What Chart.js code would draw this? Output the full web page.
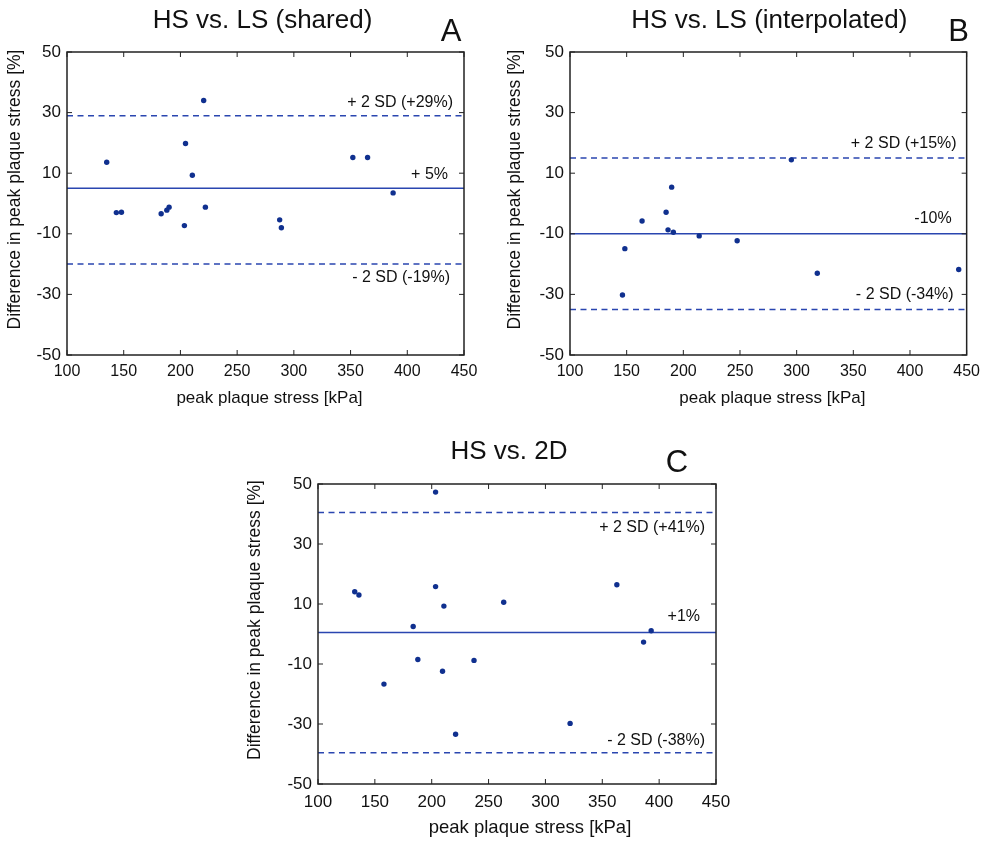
<!DOCTYPE html>
<html>
<head>
<meta charset="utf-8">
<script src="https://cdn.jsdelivr.net/npm/chart.js@4.4.1/dist/chart.umd.min.js"></script>
<style>
  body { margin: 0; background: #fff; }
  #wrap { position: relative; width: 987px; height: 844px; overflow: hidden; }
  canvas { position: absolute; }
</style>
</head>
<body>
<div id="wrap">
  <canvas id="chartA" width="490" height="420" style="left:0;top:0"></canvas>
  <canvas id="chartB" width="490" height="420" style="left:497px;top:0"></canvas>
  <canvas id="chartC" width="500" height="414" style="left:240px;top:430px"></canvas>
</div>
<script>
// panel A - HS vs. LS (shared)
const aStress = [135, 143.5, 148, 183, 188, 190, 203.5, 204.5, 210.5, 220.5, 222, 287.5, 289, 352, 365, 387.5];
const aDiff = [13.6, -3.0, -2.9, -3.4, -2.2, -1.2, -7.3, 19.8, 9.3, 34.0, -1.2, -5.4, -8.0, 15.2, 15.2, 3.5];
const aLines = [5, 29, -20];
const aLabels = ['+ 5%', '+ 2 SD (+29%)', '- 2 SD (-19%)'];

// panel B - HS vs. LS (interpolated)
const bStress = [146.3, 148.4, 163.6, 184.8, 186.5, 189.7, 191.2, 214, 247.5, 295.3, 318.2, 443];
const bDiff = [-30.2, -14.9, -5.8, -2.9, -8.7, 5.4, -9.5, -10.7, -12.3, 14.4, -23.0, -21.8];
const bLines = [-10, 15, -35];
const bLabels = ['-10%', '+ 2 SD (+15%)', '- 2 SD (-34%)'];

// panel C - HS vs. 2D
const cStress = [132.3, 136, 158, 183.7, 187.8, 203.4, 203.4, 209.5, 210.7, 221, 237.2, 263.3, 321.7, 362.8, 386.3, 393];
const cDiff = [14.1, 13.0, -16.7, 2.5, -8.5, 47.3, 15.8, -12.4, 9.3, -33.4, -8.8, 10.6, -29.8, 16.4, -2.7, 1.1];
const cLines = [0.5, 40.5, -39.6];
const cLabels = ['+1%', '+ 2 SD (+41%)', '- 2 SD (-38%)'];

const xTicks = [100, 150, 200, 250, 300, 350, 400, 450];
const yTicks = [-50, -30, -10, 10, 30, 50];
const xTitle = 'peak plaque stress [kPa]';
const yTitle = 'Difference in peak plaque stress [%]';

const dotColor = '#10308f';
const lineColor = '#2a46b0';
const font = '"Liberation Sans", Arial, sans-serif';

// box + inward MATLAB-style ticks, titles and line labels
const decorPlugin = {
  id: 'decor',
  afterDraw(chart) {
    const o = chart.options.plugins.decor;
    const { ctx, chartArea: ca, scales } = chart;
    const midX = (ca.left + ca.right) / 2;
    const midY = (ca.top + ca.bottom) / 2;
    ctx.save();
    ctx.strokeStyle = '#222';
    ctx.lineWidth = 1.5;
    ctx.strokeRect(ca.left, ca.top, ca.right - ca.left, ca.bottom - ca.top);
    ctx.lineWidth = 1;
    xTicks.forEach(v => {
      const px = scales.x.getPixelForValue(v);
      ctx.beginPath();
      ctx.moveTo(px, ca.bottom); ctx.lineTo(px, ca.bottom - 5);
      ctx.moveTo(px, ca.top); ctx.lineTo(px, ca.top + 5);
      ctx.stroke();
    });
    yTicks.forEach(v => {
      const py = scales.y.getPixelForValue(v);
      ctx.beginPath();
      ctx.moveTo(ca.left, py); ctx.lineTo(ca.left + 5, py);
      ctx.moveTo(ca.right, py); ctx.lineTo(ca.right - 5, py);
      ctx.stroke();
    });

    ctx.fillStyle = '#111';
    ctx.textBaseline = 'middle';
    ctx.textAlign = 'center';
    ctx.font = '26px ' + font;
    ctx.fillText(o.title, midX + o.titleX, ca.top + o.titleDy);
    ctx.font = '31px ' + font;
    ctx.fillText(o.letter, ca.right + o.letterDx, ca.top + o.letterDy);

    // axis titles
    ctx.font = o.xTitleSize + 'px ' + font;
    ctx.fillText(xTitle, midX + o.xTitleDx, ca.bottom + o.xTitleDy);
    ctx.save();
    ctx.translate(ca.left - o.yTitleDx, midY - 14);
    ctx.rotate(-Math.PI / 2);
    ctx.font = '17.5px ' + font;
    ctx.fillText(yTitle, 0, 0);
    ctx.restore();

    ctx.font = '16px ' + font;
    ctx.textAlign = 'right';
    o.lines.forEach((v, i) => {
      const py = scales.y.getPixelForValue(v);
      ctx.fillText(o.labels[i], ca.right + o.labelDx[i], py + o.labelDy[i]);
    });
    ctx.restore();
  }
};

function makePanel(id, stress, diff, lines, labels, cfg) {
  const pts = stress.map((x, i) => ({ x: x, y: diff[i] }));
  const hLine = (v, dash) => ({
    type: 'line',
    data: [{ x: 100, y: v }, { x: 450, y: v }],
    borderColor: lineColor,
    borderWidth: 1.5,
    borderDash: dash,
    pointRadius: 0,
    fill: false
  });
  const canvas = document.getElementById(id);

  new Chart(canvas, {
    type: 'scatter',
    data: {
      datasets: [
        { data: pts, backgroundColor: dotColor, borderColor: dotColor, pointRadius: 2.7, pointBorderWidth: 0 },
        hLine(lines[0], []),
        hLine(lines[1], [6, 4.5]),
        hLine(lines[2], [6, 4.5])
      ]
    },
    options: {
      responsive: false,
      animation: false,
      events: [],
      layout: { padding: cfg.padding },
      plugins: {
        legend: { display: false },
        tooltip: { enabled: false },
        decor: {
          title: cfg.title, letter: cfg.letter,
          titleX: cfg.titleX, titleDy: cfg.titleDy,
          letterDx: cfg.letterDx, letterDy: cfg.letterDy,
          xTitleSize: cfg.xTitleSize, xTitleDx: cfg.xTitleDx, xTitleDy: cfg.xTitleDy,
          yTitleDx: cfg.yTitleDx,
          lines: lines, labels: labels,
          labelDx: cfg.labelDx, labelDy: cfg.labelDy
        }
      },
      scales: {
        x: {
          type: 'linear', min: 100, max: 450,
          afterBuildTicks: s => { s.ticks = xTicks.map(v => ({ value: v })); },
          afterFit: s => { s.height = cfg.xh; },
          grid: { display: false, drawTicks: false },
          border: { display: false },
          ticks: { color: '#111', font: { family: font, size: cfg.xTickSize }, padding: cfg.xPad, maxRotation: 0, autoSkip: false }
        },
        y: {
          type: 'linear', min: -50, max: 50,
          afterBuildTicks: s => { s.ticks = yTicks.map(v => ({ value: v })); },
          afterFit: s => { s.width = cfg.yw; },
          grid: { display: false, drawTicks: false },
          border: { display: false },
          ticks: { color: '#111', font: { family: font, size: 17 }, padding: 6 }
        }
      }
    },
    plugins: [decorPlugin]
  });
}

document.addEventListener('DOMContentLoaded', () => {
  makePanel('chartA', aStress, aDiff, aLines, aLabels, {
    title: 'HS vs. LS (shared)', letter: 'A',
    padding: { left: 0, top: 52, right: 26, bottom: 10 },
    yw: 67, xh: 55, xPad: 7, xTickSize: 16,
    xTitleSize: 17, xTitleDx: 4, xTitleDy: 43, yTitleDx: 52,
    titleX: -3, titleDy: -31, letterDx: -13, letterDy: -20,
    labelDx: [-16, -11, -14], labelDy: [-14, -13, 13]
  });
  makePanel('chartB', bStress, bDiff, bLines, bLabels, {
    title: 'HS vs. LS (interpolated)', letter: 'B',
    padding: { left: 0, top: 52, right: 19, bottom: 10 },
    yw: 73, xh: 55, xPad: 7, xTickSize: 16,
    xTitleSize: 17, xTitleDx: 4, xTitleDy: 43, yTitleDx: 55,
    titleX: 1, titleDy: -31, letterDx: -8, letterDy: -20,
    labelDx: [-15, -10, -13], labelDy: [-15, -14, -15]
  });
  makePanel('chartC', cStress, cDiff, cLines, cLabels, {
    title: 'HS vs. 2D', letter: 'C',
    padding: { left: 0, top: 54, right: 24, bottom: 2 },
    yw: 78, xh: 58, xPad: 8, xTickSize: 17,
    xTitleSize: 18.5, xTitleDx: 13, xTitleDy: 44, yTitleDx: 63,
    titleX: -8, titleDy: -32, letterDx: -39, letterDy: -21,
    labelDx: [-16, -11, -11], labelDy: [-16, 15, -12]
  });
});
</script>
</body>
</html>
